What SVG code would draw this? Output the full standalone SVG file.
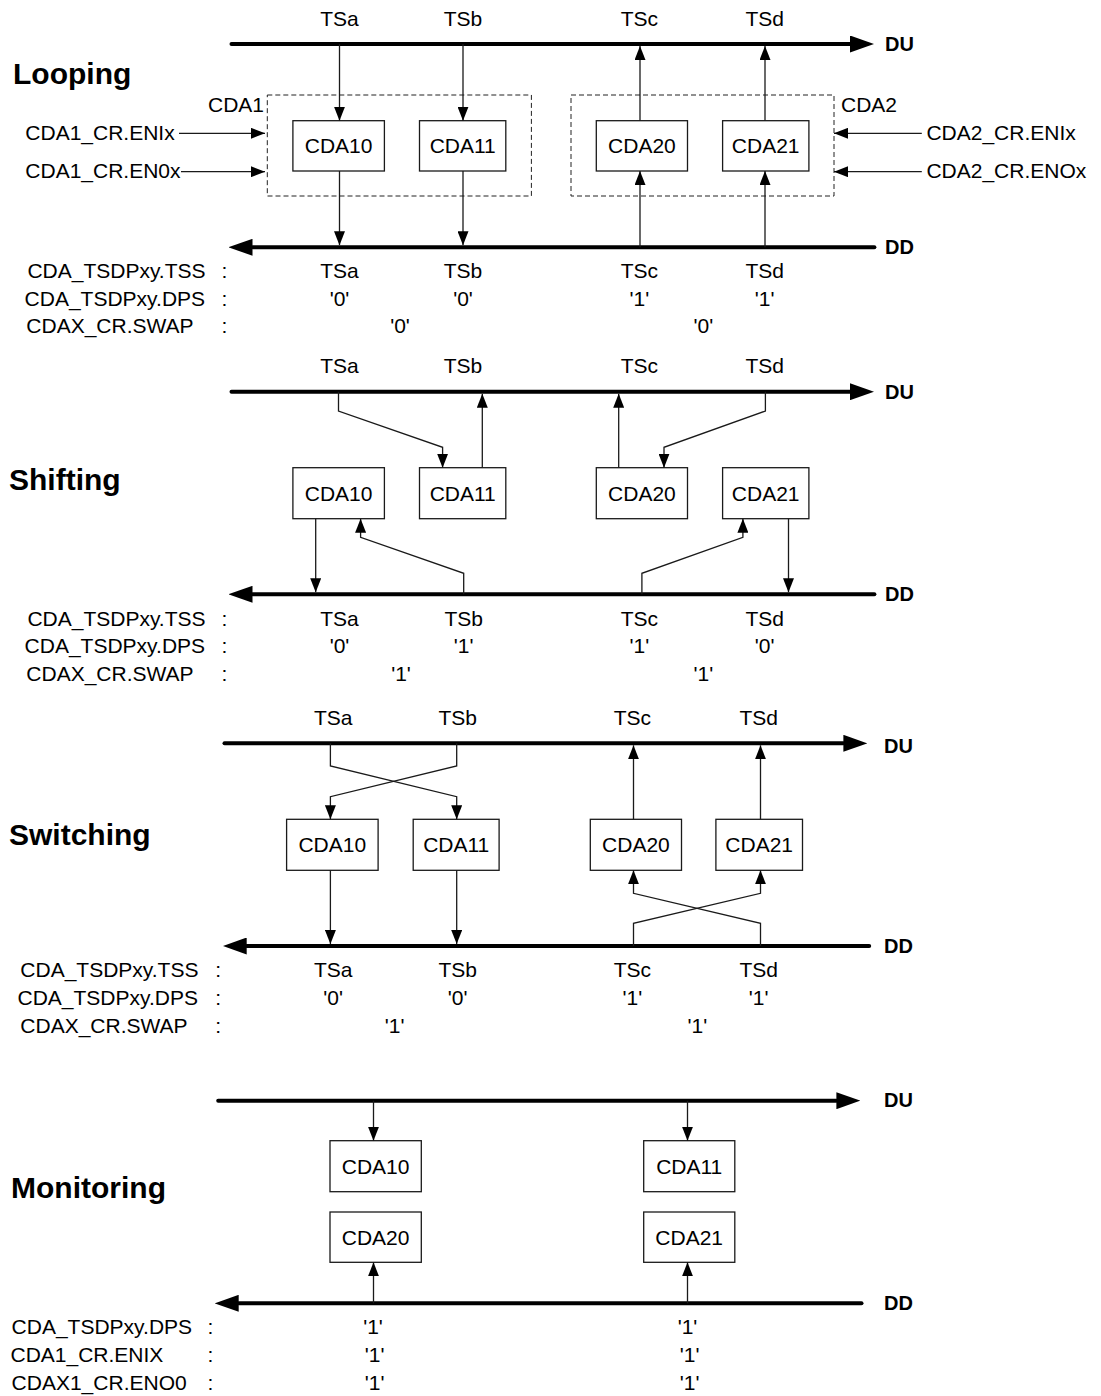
<svg xmlns="http://www.w3.org/2000/svg" width="1101" height="1396" viewBox="0 0 1101 1396">
<defs>
<style>
.bus{stroke:#000;stroke-width:4;stroke-linecap:round;fill:none;marker-end:url(#bh)}
.w{stroke:#1a1a1a;stroke-width:1.3;fill:none;marker-end:url(#ah)}
.box rect{fill:#fff;stroke:#1a1a1a;stroke-width:1.3}
text{font-family:"Liberation Sans",Arial,sans-serif;font-size:21px;fill:#000}
.c{text-anchor:middle}
.e{text-anchor:end}
.title{font-weight:bold;font-size:30px}
.bl{font-weight:bold;font-size:20px}
.dash{fill:none;stroke:#222;stroke-width:1;stroke-dasharray:5 3}
</style>
<marker id="ah" markerUnits="userSpaceOnUse" markerWidth="14" markerHeight="11" viewBox="0 0 14 11" refX="14" refY="5.5" orient="auto"><path d="M0,0 L14,5.5 L0,11 z" fill="#000"/></marker>
<marker id="bh" markerUnits="userSpaceOnUse" markerWidth="24" markerHeight="17" viewBox="0 0 24 17" refX="0" refY="8.5" orient="auto"><path d="M0,0 L24,8.5 L0,17 z" fill="#000"/></marker>
</defs>
<rect width="1101" height="1396" fill="#fff"/>

<!-- ===== Section 1: Looping ===== -->
<g id="looping-labels">
<text class="title" x="13" y="84">Looping</text>
<text class="c" x="339.5" y="26">TSa</text>
<text class="c" x="463" y="26">TSb</text>
<text class="c" x="639.4" y="26">TSc</text>
<text class="c" x="764.7" y="26">TSd</text>
<text class="bl" x="885" y="51">DU</text>
<text class="bl" x="885" y="254">DD</text>
<text class="e" x="264" y="112">CDA1</text>
<text x="841" y="112">CDA2</text>
<text x="25.3" y="140">CDA1_CR.ENIx</text>
<text x="25.3" y="178.3">CDA1_CR.EN0x</text>
<text x="926.4" y="140">CDA2_CR.ENIx</text>
<text x="926.4" y="178.3">CDA2_CR.ENOx</text>
<text x="27.4" y="278.3">CDA_TSDPxy.TSS</text>
<text x="24.6" y="306">CDA_TSDPxy.DPS</text>
<text x="26.3" y="333.3">CDAX_CR.SWAP</text>
<text class="c" x="224.5" y="278.3">:</text>
<text class="c" x="224.5" y="306">:</text>
<text class="c" x="224.5" y="333.3">:</text>
<text class="c" x="339.5" y="278.3">TSa</text>
<text class="c" x="463" y="278.3">TSb</text>
<text class="c" x="639.4" y="278.3">TSc</text>
<text class="c" x="764.7" y="278.3">TSd</text>
<text class="c" x="339.5" y="306">'0'</text>
<text class="c" x="463" y="306">'0'</text>
<text class="c" x="639.4" y="306">'1'</text>
<text class="c" x="764.7" y="306">'1'</text>
<text class="c" x="400" y="333.3">'0'</text>
<text class="c" x="703.3" y="333.3">'0'</text>
</g>
<g id="cda1-group"><rect class="dash" x="267.3" y="95" width="264.1" height="101"/></g>
<g id="cda2-group"><rect class="dash" x="571" y="95" width="263" height="101"/></g>
<g id="s1-cda10" class="box"><rect x="292.9" y="120.7" width="91.5" height="50.3"/><text class="c" x="338.6" y="153">CDA10</text></g>
<g id="s1-cda11" class="box"><rect x="419.5" y="120.7" width="86.3" height="50.3"/><text class="c" x="462.7" y="153">CDA11</text></g>
<g id="s1-cda20" class="box"><rect x="596.3" y="120.7" width="91.2" height="50.3"/><text class="c" x="641.9" y="153">CDA20</text></g>
<g id="s1-cda21" class="box"><rect x="722.6" y="120.7" width="86.3" height="50.3"/><text class="c" x="765.7" y="153">CDA21</text></g>

<!-- ===== Section 2: Shifting ===== -->
<g id="shifting-labels">
<text class="title" x="9" y="490">Shifting</text>
<text class="c" x="339.5" y="373.3">TSa</text>
<text class="c" x="463" y="373.3">TSb</text>
<text class="c" x="639.4" y="373.3">TSc</text>
<text class="c" x="764.7" y="373.3">TSd</text>
<text class="bl" x="885" y="399">DU</text>
<text class="bl" x="885" y="601">DD</text>
<text x="27.4" y="626">CDA_TSDPxy.TSS</text>
<text x="24.6" y="653.3">CDA_TSDPxy.DPS</text>
<text x="26.3" y="680.7">CDAX_CR.SWAP</text>
<text class="c" x="224.5" y="626">:</text>
<text class="c" x="224.5" y="653.3">:</text>
<text class="c" x="224.5" y="680.7">:</text>
<text class="c" x="339.5" y="626">TSa</text>
<text class="c" x="463.7" y="626">TSb</text>
<text class="c" x="639.4" y="626">TSc</text>
<text class="c" x="764.7" y="626">TSd</text>
<text class="c" x="339.5" y="653.3">'0'</text>
<text class="c" x="463.7" y="653.3">'1'</text>
<text class="c" x="639.4" y="653.3">'1'</text>
<text class="c" x="764.7" y="653.3">'0'</text>
<text class="c" x="401" y="680.7">'1'</text>
<text class="c" x="703.3" y="680.7">'1'</text>
</g>
<g id="s2-cda10" class="box"><rect x="292.9" y="467.7" width="91.5" height="51"/><text class="c" x="338.6" y="500.7">CDA10</text></g>
<g id="s2-cda11" class="box"><rect x="419.5" y="467.7" width="86.3" height="51"/><text class="c" x="462.7" y="500.7">CDA11</text></g>
<g id="s2-cda20" class="box"><rect x="596.3" y="467.7" width="91.2" height="51"/><text class="c" x="641.9" y="500.7">CDA20</text></g>
<g id="s2-cda21" class="box"><rect x="722.6" y="467.7" width="86.3" height="51"/><text class="c" x="765.7" y="500.7">CDA21</text></g>

<!-- ===== Section 3: Switching ===== -->
<g id="switching-labels">
<text class="title" x="9" y="845">Switching</text>
<text class="c" x="333.2" y="725">TSa</text>
<text class="c" x="457.7" y="725">TSb</text>
<text class="c" x="632.4" y="725">TSc</text>
<text class="c" x="758.7" y="725">TSd</text>
<text class="bl" x="884" y="752.7">DU</text>
<text class="bl" x="884" y="953.3">DD</text>
<text x="20.3" y="977.3">CDA_TSDPxy.TSS</text>
<text x="17.5" y="1005">CDA_TSDPxy.DPS</text>
<text x="20.3" y="1032.7">CDAX_CR.SWAP</text>
<text class="c" x="218.2" y="977.3">:</text>
<text class="c" x="218.2" y="1005">:</text>
<text class="c" x="218.2" y="1032.7">:</text>
<text class="c" x="333.2" y="977.3">TSa</text>
<text class="c" x="457.7" y="977.3">TSb</text>
<text class="c" x="632.4" y="977.3">TSc</text>
<text class="c" x="758.7" y="977.3">TSd</text>
<text class="c" x="333.2" y="1005">'0'</text>
<text class="c" x="457.7" y="1005">'0'</text>
<text class="c" x="632.4" y="1005">'1'</text>
<text class="c" x="758.7" y="1005">'1'</text>
<text class="c" x="394.6" y="1032.7">'1'</text>
<text class="c" x="697.3" y="1032.7">'1'</text>
</g>
<g id="s3-cda10" class="box"><rect x="286.6" y="819.3" width="91.5" height="51"/><text class="c" x="332.3" y="852.3">CDA10</text></g>
<g id="s3-cda11" class="box"><rect x="413.2" y="819.3" width="85.9" height="51"/><text class="c" x="456.2" y="852.3">CDA11</text></g>
<g id="s3-cda20" class="box"><rect x="590.3" y="819.3" width="91.2" height="51"/><text class="c" x="635.9" y="852.3">CDA20</text></g>
<g id="s3-cda21" class="box"><rect x="715.9" y="819.3" width="86.6" height="51"/><text class="c" x="759.2" y="852.3">CDA21</text></g>

<!-- ===== Section 4: Monitoring ===== -->
<g id="monitoring-labels">
<text class="title" x="11" y="1198">Monitoring</text>
<text class="bl" x="884" y="1107">DU</text>
<text class="bl" x="884" y="1309.5">DD</text>
<text x="11.6" y="1334">CDA_TSDPxy.DPS</text>
<text x="10.5" y="1362.3">CDA1_CR.ENIX</text>
<text x="11.6" y="1390">CDAX1_CR.ENO0</text>
<text class="c" x="210.5" y="1334">:</text>
<text class="c" x="210.5" y="1362.3">:</text>
<text class="c" x="210.5" y="1390">:</text>
<text class="c" x="373" y="1334">'1'</text>
<text class="c" x="374.6" y="1362.3">'1'</text>
<text class="c" x="374.6" y="1390">'1'</text>
<text class="c" x="687.5" y="1334">'1'</text>
<text class="c" x="689.6" y="1362.3">'1'</text>
<text class="c" x="689.6" y="1390">'1'</text>
</g>
<g id="s4-cda10" class="box"><rect x="330" y="1140.7" width="91.3" height="51"/><text class="c" x="375.6" y="1173.7">CDA10</text></g>
<g id="s4-cda11" class="box"><rect x="643.7" y="1140.7" width="91.1" height="51"/><text class="c" x="689.2" y="1173.7">CDA11</text></g>
<g id="s4-cda20" class="box"><rect x="330" y="1212" width="91.3" height="50.3"/><text class="c" x="375.6" y="1244.7">CDA20</text></g>
<g id="s4-cda21" class="box"><rect x="643.7" y="1212" width="91.1" height="50.3"/><text class="c" x="689.2" y="1244.7">CDA21</text></g>

<!-- ===== Connectors ===== -->
<g id="connectors">
<!-- buses -->
<path class="bus" d="M231.5,44 H850"/>
<path class="bus" d="M874.4,247.3 H252.5"/>
<path class="bus" d="M231.5,391.7 H850"/>
<path class="bus" d="M874.4,594.3 H252.5"/>
<path class="bus" d="M224.5,743.3 H843.4"/>
<path class="bus" d="M869.2,946 H246.7"/>
<path class="bus" d="M218.2,1100.7 H836.4"/>
<path class="bus" d="M861.5,1303.3 H238.7"/>
<!-- section 1 -->
<path class="w" d="M339.5,44 V120.7"/>
<path class="w" d="M463,44 V120.7"/>
<path class="w" d="M339.5,171 V245.3"/>
<path class="w" d="M463,171 V245.3"/>
<path class="w" d="M640,247.3 V171"/>
<path class="w" d="M765,247.3 V171"/>
<path class="w" d="M640,120.7 V46"/>
<path class="w" d="M765,120.7 V46"/>
<path class="w" d="M179,133.3 H265"/>
<path class="w" d="M181,171.7 H265"/>
<path class="w" d="M921.8,133.3 H834"/>
<path class="w" d="M921.8,171.7 H834"/>
<!-- section 2 -->
<path class="w" d="M338.5,391.7 V411 L442.6,447.3 V467.7"/>
<path class="w" d="M482.3,467.7 V393.7"/>
<path class="w" d="M315.7,518.7 V592.3"/>
<path class="w" d="M463.7,594.3 V573.3 L360.6,537.3 V518.7"/>
<path class="w" d="M618.7,467.7 V393.7"/>
<path class="w" d="M765.4,391.7 V411 L664,447.3 V467.7"/>
<path class="w" d="M641.9,594.3 V573.3 L742.9,537.3 V518.7"/>
<path class="w" d="M788.5,518.7 V592.3"/>
<!-- section 3 -->
<path class="w" d="M330.4,743.3 V766 L456.7,796.7 V819.3"/>
<path class="w" d="M456.7,743.3 V766 L330.4,796.7 V819.3"/>
<path class="w" d="M330.4,870.3 V944"/>
<path class="w" d="M456.7,870.3 V944"/>
<path class="w" d="M633.5,819.3 V745.3"/>
<path class="w" d="M760.5,819.3 V745.3"/>
<path class="w" d="M633.5,946 V923.3 L760.5,893.3 V870.3"/>
<path class="w" d="M760.5,946 V923.3 L633.5,893.3 V870.3"/>
<!-- section 4 -->
<path class="w" d="M373.5,1100.7 V1140.7"/>
<path class="w" d="M687.5,1100.7 V1140.7"/>
<path class="w" d="M373.5,1303.3 V1262.3"/>
<path class="w" d="M687.5,1303.3 V1262.3"/>
</g>
</svg>
